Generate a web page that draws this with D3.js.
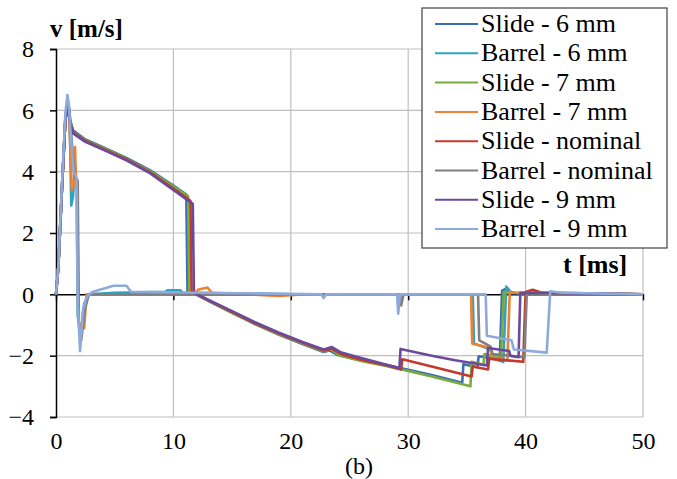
<!DOCTYPE html>
<html>
<head>
<meta charset="utf-8">
<script src="https://cdn.jsdelivr.net/npm/d3@7/dist/d3.min.js"></script>
<style>
    body { margin: 0; background: #fff; }
    svg text { font-family: "Times New Roman", "Liberation Serif", Tinos, "DejaVu Serif", serif; }
</style>
</head>
<body>
<svg id="chart"></svg>
<script>
// series names and colours, legend order
let seriesNames = ["Slide - 6 mm", "Barrel - 6 mm", "Slide - 7 mm", "Barrel - 7 mm",
    "Slide - nominal", "Barrel - nominal", "Slide - 9 mm", "Barrel - 9 mm"];
let seriesColors = ["#3A6FB5", "#2FA3C2", "#78AC3E", "#EE8132", "#C23A2E", "#808080", "#6A4A9C", "#8EAADB"];

let xTicks = [0, 10, 20, 30, 40, 50];
let yTicks = [-4, -2, 0, 2, 4, 6, 8];

// [t ms, v m/s]
let slide6 = [[0, 0], [0.2, 0.9], [0.5, 3.4], [0.8, 5.7], [1.0, 6.2], [1.2, 5.7], [1.45, 5.35], [2.5, 5.05],
    [4, 4.8], [6, 4.45], [8, 4.05], [10, 3.55], [11.1, 3.25], [11.2, 0.1], [11.8, 0.02], [13, -0.22],
    [15, -0.6], [17, -0.98], [19, -1.32], [21, -1.62], [22.8, -1.88], [23.3, -1.83], [24, -1.98],
    [26, -2.15], [28, -2.3], [30, -2.46], [32, -2.63], [34.6, -2.88], [34.7, -2.28], [35.9, -2.38],
    [36.0, -2.02], [37.8, -2.12], [38.0, 0.12], [38.3, 0.18], [38.8, 0.04], [42, 0.02], [50, 0]];
let barrel6 = [[0, 0], [0.2, 0.9], [0.5, 3.4], [0.8, 5.7], [1.0, 6.25], [1.1, 6.1], [1.2, 5.0], [1.3, 2.9],
    [1.45, 3.2], [1.55, 3.8], [1.75, 3.75], [1.85, -0.7], [2.1, -1.3], [2.4, -0.3], [2.8, 0.0], [5, 0.05],
    [9.3, 0.08], [9.5, 0.13], [10.6, 0.13], [10.8, 0.05], [20, 0.0], [35.5, 0.0], [35.6, -1.6], [37.0, -1.8],
    [37.2, -2.1], [38.1, -2.2], [38.35, 0.25], [38.8, 0.05], [50, 0]];
let slide7 = [[0, 0], [0.2, 0.9], [0.5, 3.4], [0.8, 5.7], [1.0, 6.2], [1.2, 5.65], [1.45, 5.3], [2.5, 5.02],
    [4, 4.77], [6, 4.42], [8, 4.02], [10, 3.52], [11.25, 3.2], [11.35, 0.1], [11.85, 0.02], [13, -0.2],
    [15, -0.6], [17, -0.97], [19, -1.3], [21, -1.6], [22.8, -1.86], [23.4, -1.8], [24.2, -2.0],
    [26, -2.17], [28, -2.33], [30, -2.5], [32, -2.68], [35.3, -3.0], [35.4, -2.2], [36.4, -2.3],
    [36.5, -1.95], [37.9, -2.05], [38.15, 0.08], [38.6, 0.05], [50, 0]];
let barrel7 = [[0, 0], [0.2, 0.9], [0.5, 3.4], [0.8, 5.7], [1.0, 6.2], [1.1, 6.0], [1.2, 5.0], [1.35, 3.4],
    [1.55, 3.6], [1.62, 4.8], [1.7, 3.8], [1.8, 3.75], [1.9, -0.9], [2.1, -1.0], [2.4, -1.1], [2.6, 0.0],
    [11.8, 0.0], [12.1, 0.15], [12.9, 0.22], [13.3, 0.05], [19, -0.05], [21, 0.0], [35.35, 0.0],
    [35.45, -1.6], [37.0, -1.75], [37.2, -2.1], [38.45, -2.15], [38.65, 0.08], [39.2, 0.05], [50, 0]];
let slideNom = [[0, 0], [0.2, 0.9], [0.5, 3.4], [0.8, 5.7], [1.0, 6.2], [1.2, 5.6], [1.45, 5.28], [2.5, 5.0],
    [4, 4.74], [6, 4.4], [8, 3.98], [10, 3.45], [11.45, 3.05], [11.55, 0.08], [11.9, 0.02], [13, -0.2],
    [15, -0.58], [17, -0.95], [19, -1.28], [21, -1.58], [22.8, -1.83], [23.5, -1.78], [24.3, -1.95],
    [26, -2.13], [28, -2.3], [29.4, -2.45], [29.5, -2.12], [32, -2.35], [35.4, -2.68], [35.5, -2.35],
    [36.8, -2.45], [36.9, -2.1], [39.8, -2.2], [40.0, 0.08], [40.6, 0.15], [41.3, 0.06], [50, 0]];
let barrelNom = [[0, 0], [0.2, 0.9], [0.5, 3.4], [0.8, 5.8], [1.0, 6.3], [1.15, 6.0], [1.3, 5.2], [1.6, 3.8],
    [1.85, 3.7], [1.95, -1.0], [2.15, -1.5], [2.45, -0.5], [2.8, 0.0], [29.3, 0.0], [29.4, -0.36],
    [29.6, 0.0], [35.95, 0.0], [36.05, -1.5], [37.0, -1.7], [37.2, -1.95], [39.9, -2.05], [40.1, 0.05], [50, 0]];
let slide9 = [[0, 0], [0.2, 0.9], [0.5, 3.4], [0.8, 5.7], [1.0, 6.15], [1.2, 5.55], [1.45, 5.25], [2.5, 4.97],
    [4, 4.72], [6, 4.37], [8, 3.95], [10, 3.4], [11.65, 2.95], [11.75, 0.05], [12, 0.0], [13, -0.18],
    [15, -0.55], [17, -0.92], [19, -1.25], [21, -1.55], [22.8, -1.8], [23.5, -1.72], [24.3, -1.9],
    [26, -2.08], [28, -2.28], [29.25, -2.4], [29.35, -1.78], [32, -2.0], [34, -2.15], [36.7, -2.32],
    [36.8, -1.75], [38.6, -1.85], [38.7, -2.0], [39.4, -2.05], [39.55, 0.05], [50, 0]];
let barrel9 = [[0, 0], [0.2, 0.9], [0.5, 3.5], [0.8, 5.9], [0.97, 6.5], [1.1, 6.2], [1.2, 5.5], [1.5, 4.0],
    [1.75, 3.8], [1.85, -0.3], [2.05, -1.85], [2.3, -0.5], [2.6, -0.1], [3.0, 0.05], [3.3, 0.1], [4.9, 0.28],
    [6.0, 0.28], [6.4, 0.08], [11, 0.06], [22.6, 0.0], [22.8, -0.12], [23.0, 0.0], [29.05, 0.0],
    [29.15, -0.63], [29.3, 0.0], [36.6, 0.0], [36.7, -1.35], [38.8, -1.5], [39.0, -1.8], [41.8, -1.9],
    [42.1, 0.1], [43, 0.05], [50, 0]];

let seriesData = [slide6, barrel6, slide7, barrel7, slideNom, barrelNom, slide9, barrel9];

let width = 677, height = 479;
let margin = {top: 49, bottom: 62, left: 56, right: 34};
let serif = "'Times New Roman', 'Liberation Serif', Tinos, 'DejaVu Serif', serif";

let svg = d3.select("#chart")
    .attr("width", width)
    .attr("height", height);

let xScale = d3.scaleLinear()
    .domain([0, 50])
    .range([margin.left, width - margin.right]);
let yScale = d3.scaleLinear()
    .domain([-4, 8])
    .range([height - margin.bottom, margin.top]);

// grid
svg.append("g")
    .selectAll("line")
    .data(xTicks.filter(d => d > 0))
    .enter()
    .append("line")
    .attr("x1", d => xScale(d)).attr("x2", d => xScale(d))
    .attr("y1", yScale(8)).attr("y2", yScale(-4))
    .attr("stroke", "#BFBFBF").attr("stroke-width", 1.2);
svg.append("g")
    .selectAll("line")
    .data(yTicks.filter(d => d !== 0))
    .enter()
    .append("line")
    .attr("x1", xScale(0)).attr("x2", xScale(50))
    .attr("y1", d => yScale(d)).attr("y2", d => yScale(d))
    .attr("stroke", "#BFBFBF").attr("stroke-width", 1.2);

// zero axis with ticks
let xAx = d3.axisBottom(xScale).tickValues(xTicks).tickSize(6).tickSizeOuter(0).tickFormat("");
let zeroAxis = svg.append("g")
    .attr("transform", `translate(0,${yScale(0)})`)
    .call(xAx);
zeroAxis.selectAll("path, line").attr("stroke", "#000").attr("stroke-width", 1.5);

// tick labels along the bottom
let xLab = d3.axisBottom(xScale).tickValues(xTicks).tickSize(0).tickPadding(15);
let xLabels = svg.append("g")
    .attr("transform", `translate(0,${yScale(-4)})`)
    .call(xLab);
xLabels.select(".domain").remove();
xLabels.attr("font-family", serif);
xLabels.selectAll("text").attr("font-size", 24).attr("fill", "#000");

let yAx = d3.axisLeft(yScale).tickValues(yTicks).tickSize(6).tickPadding(16);
let yAxis = svg.append("g")
    .attr("transform", `translate(${xScale(0)},0)`)
    .call(yAx);
yAxis.attr("font-family", serif);
yAxis.selectAll("path, line").attr("stroke", "#000").attr("stroke-width", 1.5);
yAxis.selectAll("text").attr("font-size", 24).attr("fill", "#000");

// series
let line = d3.line()
    .x(d => xScale(d[0]))
    .y(d => yScale(d[1]));
svg.append("g")
    .selectAll("path")
    .data(seriesData)
    .enter()
    .append("path")
    .attr("d", d => line(d))
    .attr("fill", "none")
    .attr("stroke", (d, i) => seriesColors[i])
    .attr("stroke-width", 2.6)
    .attr("stroke-linejoin", "round");

// axis titles
svg.append("text")
    .attr("x", 50).attr("y", 37)
    .attr("font-family", serif)
    .attr("font-size", 25).attr("font-weight", "bold")
    .text("v [m/s]");
svg.append("text")
    .attr("x", 563).attr("y", 273)
    .attr("font-family", serif)
    .attr("font-size", 26).attr("font-weight", "bold")
    .text("t [ms]");
svg.append("text")
    .attr("x", 359).attr("y", 474)
    .attr("text-anchor", "middle")
    .attr("font-family", serif)
    .attr("font-size", 24)
    .text("(b)");

// legend
let legend = svg.append("g");
legend.append("rect")
    .attr("x", 422).attr("y", 8)
    .attr("width", 245).attr("height", 240)
    .attr("fill", "#fff").attr("stroke", "#404040").attr("stroke-width", 1.2);
let rows = legend.selectAll(".row")
    .data(seriesNames)
    .enter()
    .append("g")
    .attr("transform", (d, i) => `translate(0,${24 + i * 29.3})`);
rows.append("line")
    .attr("x1", 435).attr("x2", 478)
    .attr("y1", 0).attr("y2", 0)
    .attr("stroke", (d, i) => seriesColors[i])
    .attr("stroke-width", 2);
rows.append("text")
    .attr("x", 481).attr("y", 8)
    .attr("font-family", serif)
    .attr("font-size", 26)
    .text(d => d);
</script>
</body>
</html>
